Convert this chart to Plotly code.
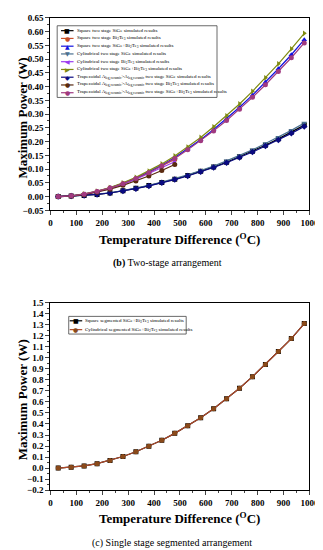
import plotly.graph_objects as go

# ---------------- data ----------------
temp = [30, 80, 130, 180, 230, 280, 330, 380, 430, 480,
        530, 580, 630, 680, 730, 780, 830, 880, 930, 980]
temp_bi = temp[:10]

sq_sige = [0, 0.002, 0.004, 0.008, 0.013, 0.021, 0.030, 0.040, 0.051, 0.063,
           0.077, 0.092, 0.108, 0.125, 0.145, 0.165, 0.187, 0.210, 0.234, 0.260]
sq_bi = [0, 0.002, 0.008, 0.018, 0.031, 0.047, 0.066, 0.088, 0.110, 0.135]
sq_both = [0, 0.003, 0.009, 0.019, 0.032, 0.048, 0.067, 0.089, 0.114, 0.142,
           0.173, 0.207, 0.244, 0.283, 0.325, 0.369, 0.416, 0.465, 0.516, 0.571]
cy_sige = [0, 0.002, 0.004, 0.009, 0.014, 0.022, 0.031, 0.041, 0.053, 0.065,
           0.079, 0.095, 0.111, 0.130, 0.149, 0.170, 0.193, 0.216, 0.241, 0.268]
cy_bi = [0, 0.002, 0.008, 0.017, 0.030, 0.045, 0.063, 0.084, 0.105, 0.127]
cy_both = [0, 0.003, 0.010, 0.020, 0.033, 0.050, 0.070, 0.093, 0.119, 0.148,
           0.180, 0.215, 0.254, 0.294, 0.337, 0.383, 0.432, 0.483, 0.537, 0.594]
tr_sige = [0, 0.002, 0.004, 0.008, 0.013, 0.020, 0.029, 0.039, 0.050, 0.062,
           0.075, 0.090, 0.106, 0.123, 0.142, 0.162, 0.184, 0.206, 0.230, 0.255]
tr_bi = [0, 0.002, 0.007, 0.016, 0.027, 0.041, 0.057, 0.075, 0.095, 0.117]
tr_both = [0, 0.003, 0.009, 0.019, 0.031, 0.047, 0.066, 0.087, 0.112, 0.139,
           0.170, 0.203, 0.239, 0.277, 0.318, 0.361, 0.407, 0.455, 0.505, 0.559]

seg_square = [0, 0.007, 0.020, 0.040, 0.070, 0.105, 0.148, 0.197, 0.252, 0.315,
              0.385, 0.456, 0.538, 0.628, 0.724, 0.829, 0.940, 1.057, 1.174, 1.310]
seg_cyl = [0, 0.007, 0.020, 0.040, 0.070, 0.105, 0.148, 0.197, 0.252, 0.315,
           0.385, 0.456, 0.538, 0.628, 0.724, 0.829, 0.940, 1.057, 1.174, 1.310]

BT = "Bi<sub>2</sub>Te<sub>3</sub>"
AL = "A<sub>leg,ceramic</sub>>A<sub>leg,ceramic</sub>"
# name, x, y, colour, plotly symbol, legend glyph
top_series = [
    ("Square two stage SiGe simulated results", temp, sq_sige, "#000000", "square", "■"),
    (f"Square two stage {BT} simulated results", temp_bi, sq_bi, "#c8502a", "circle", "●"),
    (f"Square two stage SiGe+{BT} simulated results", temp, sq_both, "#1010e0", "triangle-up", "▲"),
    ("Cylindrical two stage SiGe simulated results", temp, cy_sige, "#4a7090", "triangle-down", "▼"),
    (f"Cylindrical two stage {BT} simulated results", temp_bi, cy_bi, "#9a3cf0", "triangle-left", "◀"),
    (f"Cylindrical two stage SiGe+{BT} simulated results", temp, cy_both, "#7f8a10", "triangle-right", "▶"),
    (f"Trapezoidal {AL} two stage SiGe simulated results", temp, tr_sige, "#0a0a80", "diamond", "◆"),
    (f"Trapezoidal {AL} two stage {BT} simulated results", temp_bi, tr_bi, "#5a2a10", "circle", "●"),
    (f"Trapezoidal {AL} two stage SiGe+{BT} simulated results", temp, tr_both, "#a03a80", "circle", "●"),
]
bottom_series = [
    (f"Square segmented SiGe+{BT} simulated results", temp, seg_square, "#000000", "square", "■", "#000000"),
    (f"Cylindrical segmented SiGe+{BT} simulated results", temp, seg_cyl, "#b04a2a", "circle", "●", "#8a4a1a"),
]

FONT = "Liberation Serif"
W, H = 323, 550

fig = go.Figure()
for name, x, y, c, sym, g in top_series:
    fig.add_trace(go.Scatter(x=x, y=y, name=name, mode="lines+markers",
                             line=dict(color=c, width=1.2),
                             marker=dict(symbol=sym, size=5, color=c),
                             xaxis="x", yaxis="y", showlegend=False))
for name, x, y, c, sym, g, mc in bottom_series:
    fig.add_trace(go.Scatter(x=x, y=y, name=name, mode="lines+markers",
                             line=dict(color=c, width=1.2),
                             marker=dict(symbol=sym, size=5, color=mc),
                             xaxis="x2", yaxis="y2", showlegend=False))

xdom = [42 / W, 311 / W]
top_dom = [1 - 201 / H, 1 - 5 / H]
bot_dom = [1 - 486 / H, 1 - 295 / H]

tickfont = dict(family=FONT, size=9, color="black", weight="bold")
titlefont = dict(family=FONT, size=13, color="black", weight="bold")

def xax(anchor, dom):
    return dict(domain=dom, anchor=anchor, range=[0, 1000], dtick=100, tick0=0,
                showgrid=False, zeroline=False, showline=True, linecolor="black",
                linewidth=1.3, mirror=True, ticks="outside", ticklen=4, tickwidth=1,
                tickfont=tickfont,
                minor=dict(ticks="outside", ticklen=2, dtick=50, tick0=0, showgrid=False))

def yax(anchor, dom, rng, dtick, fmt):
    return dict(domain=dom, anchor=anchor, range=rng, dtick=dtick, tick0=0,
                showgrid=False, zeroline=False, showline=True, linecolor="black",
                linewidth=1.3, mirror=True, ticks="outside", ticklen=4, tickwidth=1,
                tickfont=tickfont, tickformat=fmt,
                minor=dict(ticks="outside", ticklen=2, dtick=dtick / 2, showgrid=False))

shapes = []
annotations = []

def P(xpx, ypx):
    return xpx / W, 1 - ypx / H

def add_legend(series, box, row0, step, line_x0, line_x1, text_x, fsize):
    x0, y0, x1, y1 = box
    shapes.append(dict(type="rect", xref="paper", yref="paper",
                       x0=x0 / W, x1=x1 / W, y0=1 - y1 / H, y1=1 - y0 / H,
                       line=dict(color="#444", width=0.8), fillcolor="white"))
    for i, s in enumerate(series):
        name, c, glyph = s[0], s[3], s[5]
        mc = s[6] if len(s) > 6 else c
        yy = row0 + i * step
        shapes.append(dict(type="line", xref="paper", yref="paper",
                           x0=line_x0 / W, x1=line_x1 / W, y0=1 - yy / H, y1=1 - yy / H,
                           line=dict(color=c, width=1.2)))
        gx, gy = P((line_x0 + line_x1) / 2, yy)
        annotations.append(dict(text=glyph, x=gx, y=gy, xref="paper", yref="paper",
                                showarrow=False, xanchor="center", yanchor="middle",
                                font=dict(family="DejaVu Sans", size=6, color=mc)))
        tx, ty = P(text_x, yy)
        annotations.append(dict(text=name, x=tx, y=ty, xref="paper", yref="paper",
                                showarrow=False, xanchor="left", yanchor="middle",
                                font=dict(family=FONT, size=fsize, color="black")))

add_legend(top_series, (49, 13, 215, 86), 18, 7.9, 53, 66, 67, 5)
add_legend(bottom_series, (61, 309, 183, 327), 313.5, 9, 62, 75, 76, 5)

# axis titles
for yc in (230, 514):
    x, y = P(176, yc)
    annotations.append(dict(text="Temperature Difference (<sup>O</sup>C)", x=x, y=y,
                            xref="paper", yref="paper", showarrow=False,
                            xanchor="center", yanchor="middle", font=titlefont))
for yc in (107, 394):
    x, y = P(13, yc)
    annotations.append(dict(text="Maximum Power (W)", x=x, y=y, textangle=-90,
                            xref="paper", yref="paper", showarrow=False,
                            xanchor="center", yanchor="middle", font=titlefont))
x, y = P(164, 255)
annotations.append(dict(text="<b>(b)</b> Two-stage arrangement", x=x, y=y,
                        xref="paper", yref="paper", showarrow=False,
                        xanchor="center", yanchor="middle",
                        font=dict(family=FONT, size=10, color="black")))
x, y = P(168, 540)
annotations.append(dict(text="(c) Single stage segmented arrangement", x=x, y=y,
                        xref="paper", yref="paper", showarrow=False,
                        xanchor="center", yanchor="middle",
                        font=dict(family=FONT, size=10, color="black")))

fig.update_layout(
    width=W, height=H,
    margin=dict(l=0, r=0, t=0, b=0),
    paper_bgcolor="white", plot_bgcolor="white",
    showlegend=False,
    xaxis=dict(**xax("y", xdom)),
    yaxis=dict(**yax("x", top_dom, [-0.05, 0.65], 0.05, ".2f")),
    xaxis2=dict(**xax("y2", xdom)),
    yaxis2=dict(**yax("x2", bot_dom, [-0.2, 1.5], 0.1, ".1f")),
    shapes=shapes,
    annotations=annotations,
)
fig.write_html("out.html")
